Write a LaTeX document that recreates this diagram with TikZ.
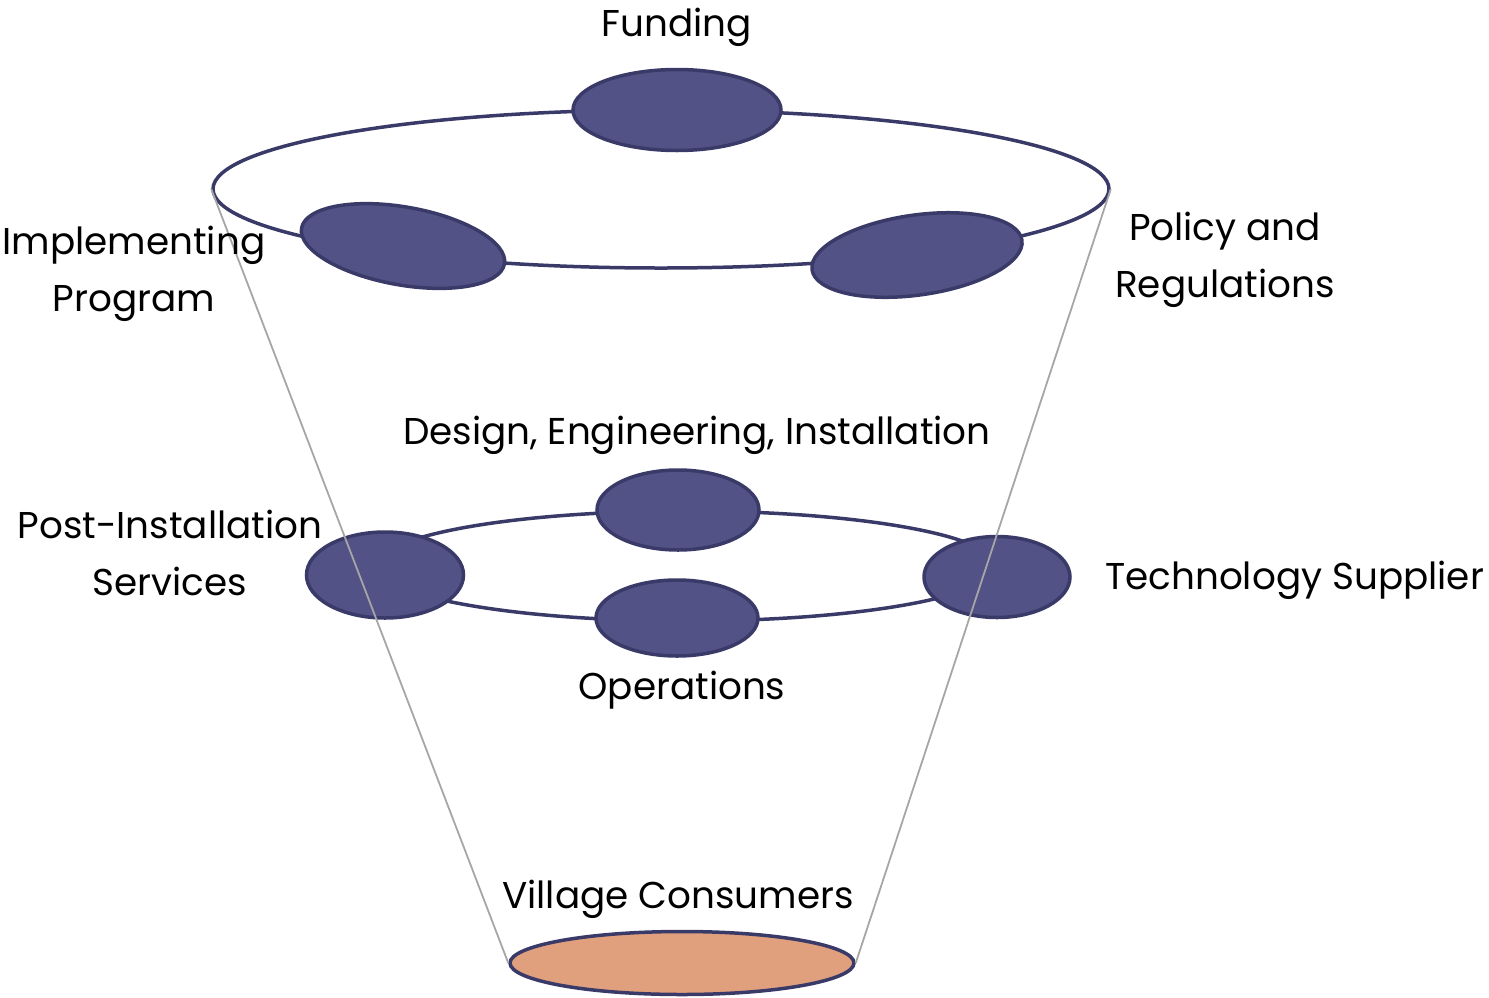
\documentclass[tikz,border=0pt]{standalone}
\usepackage{fontspec}
\setmainfont{Poppins}
\usetikzlibrary{shapes.geometric}
\newdimen\pxu \pxu=0.75pt
\definecolor{blobfill}{RGB}{82,82,134}
\definecolor{blobedge}{RGB}{58,58,104}
\definecolor{villfill}{RGB}{224,160,126}
\definecolor{conegrey}{RGB}{166,166,166}
\tikzset{
  blob/.style={ellipse, draw=blobedge, fill=blobfill, line width=3.5\pxu, inner sep=0pt},
  ring/.style={ellipse, draw=blobedge, line width=3.5\pxu, inner sep=0pt},
  cone/.style={draw=conegrey, line width=1.8\pxu},
  lbl/.style={font=\fontsize{28}{43}\selectfont, align=center, inner sep=0pt},
}
\begin{document}
\begin{tikzpicture}[x=0.75pt,y=-0.75pt]
\useasboundingbox (0,0) rectangle (1489,997);
% rings
\node[ring, minimum width=896\pxu, minimum height=158\pxu] (topring) at (661,189) {};
\node[ring, minimum width=620\pxu, minimum height=110\pxu] (midring) at (686,566) {};
% top blobs
\node[blob, minimum width=208\pxu, minimum height=81\pxu] (funding) at (677,110) {};
\node[blob, minimum width=206\pxu, minimum height=78\pxu, rotate=-10] (impl) at (403,246) {};
\node[blob, minimum width=212\pxu, minimum height=80\pxu, rotate=8] (policy) at (917,255) {};
% middle blobs
\node[blob, minimum width=162\pxu, minimum height=80\pxu] (design) at (678,510) {};
\node[blob, minimum width=162\pxu, minimum height=76\pxu] (ops) at (677,618) {};
\node[blob, minimum width=157\pxu, minimum height=86\pxu] (post) at (385,575) {};
\node[blob, minimum width=146\pxu, minimum height=81\pxu] (tech) at (997,577) {};
% bottom
\node[ellipse, draw=blobedge, fill=villfill, line width=3.5\pxu, inner sep=0pt,
      minimum width=344\pxu, minimum height=63\pxu] (village) at (682,963) {};
% cone lines
\draw[cone] (topring.west) -- (village.west);
\draw[cone] (topring.east) -- (village.east);
% labels
\node[lbl] (tfunding) at (677,27) {Funding};
\node[lbl] (timpl) at (134,274) {Implementing\\Program};
\node[lbl] (tpolicy) at (1225,260) {Policy and\\Regulations};
\node[lbl] (tdesign) at (697,435) {Design, Engineering, Installation};
\node[lbl] (tpost) at (170,553) {Post-Installation\\Services};
\node[lbl, anchor=west] (ttech) at (1105,580) {Technology Supplier};
\node[lbl] (tops) at (682,690) {Operations};
\node[lbl] (tvill) at (678,899) {Village Consumers};
\end{tikzpicture}
\end{document}
